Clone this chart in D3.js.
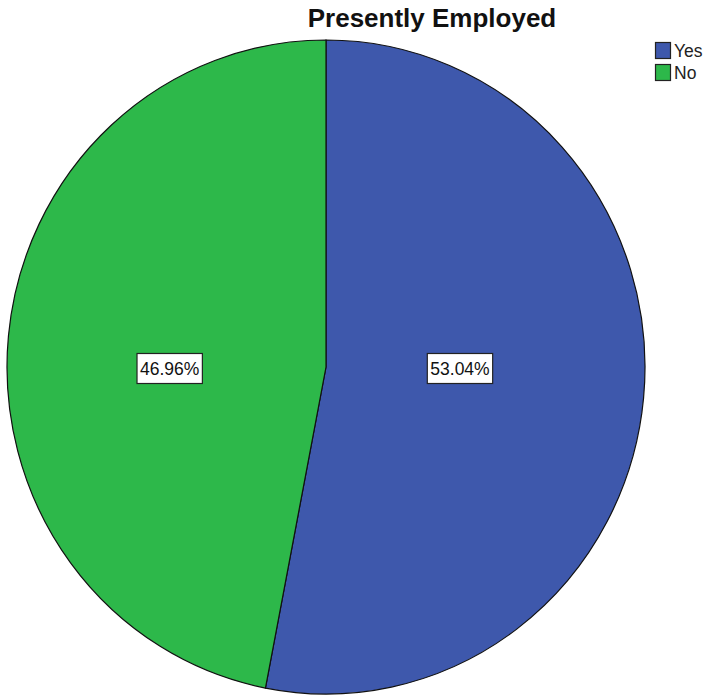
<!DOCTYPE html>
<html lang="en">
<head>
<meta charset="utf-8">
<style>
  body { margin: 0; background: white; }
  svg { display: block; background: white; }
  .title { font: bold 26px Arial, "Liberation Sans", sans-serif; fill: #111; }
  .legend text { font: 17.5px Arial, "Liberation Sans", sans-serif; fill: #222; }
  .lbl { font: 17.5px Arial, "Liberation Sans", sans-serif; fill: #111; }
</style>
<script src="https://d3js.org/d3.v7.min.js"></script>
</head>
<body>
<script>
// data
var categories = ["Yes", "No"];
var percents = [53.04, 46.96];
var colors = ["#3e58ac", "#2db84a"];

var width = 711, height = 698;
var cx = 326, cy = 367, rx = 319, ry = 327;

var svg = d3.select("body").append("svg")
    .attr("width", width)
    .attr("height", height);

svg.append("text")
    .attr("class", "title")
    .attr("x", 432)
    .attr("y", 27)
    .attr("text-anchor", "middle")
    .text("Presently Employed");

var pie = d3.pie().sort(null).value(function(d) { return d; });
var arcs = pie(percents);

var arc = d3.arc().innerRadius(0).outerRadius(rx);

var g = svg.append("g")
    .attr("transform", "translate(" + cx + "," + cy + ") scale(1," + (ry / rx) + ")");

g.selectAll("path")
    .data(arcs)
    .enter().append("path")
    .attr("d", arc)
    .attr("fill", function(d, i) { return colors[i]; })
    .attr("stroke", "#111")
    .attr("stroke-width", 1.2)
    .attr("vector-effect", "non-scaling-stroke");

// labels: horizontal position from the slice centroid, kept on the centre line
var labelR = [0.42, 0.49];
var labels = svg.append("g").attr("transform", "translate(" + cx + "," + cy + ")");
arcs.forEach(function(d, i) {
  var la = d3.arc().innerRadius(rx * labelR[i]).outerRadius(rx * labelR[i]);
  var x = la.centroid(d)[0] / Math.abs(Math.sin((d.startAngle + d.endAngle) / 2));
  var lg = labels.append("g").attr("transform", "translate(" + x + ",1.5)");
  var t = lg.append("text")
      .attr("class", "lbl")
      .attr("text-anchor", "middle")
      .attr("dy", "0.35em")
      .text(d3.format(".2f")(percents[i]) + "%");
  var bb = t.node().getBBox();
  lg.insert("rect", "text")
      .attr("x", bb.x - 3)
      .attr("y", -15)
      .attr("width", bb.width + 6)
      .attr("height", 30)
      .attr("fill", "white")
      .attr("stroke", "#222")
      .attr("stroke-width", 1.2);
});

// legend
var leg = svg.append("g").attr("class", "legend");
categories.forEach(function(c, i) {
  var y = 42 + i * 22;
  leg.append("rect")
      .attr("x", 655.5).attr("y", y + 0.5)
      .attr("width", 15).attr("height", 16)
      .attr("fill", colors[i])
      .attr("stroke", "#222")
      .attr("stroke-width", 1.2);
  leg.append("text")
      .attr("x", 674).attr("y", y + 15)
      .text(c);
});
</script>
</body>
</html>
